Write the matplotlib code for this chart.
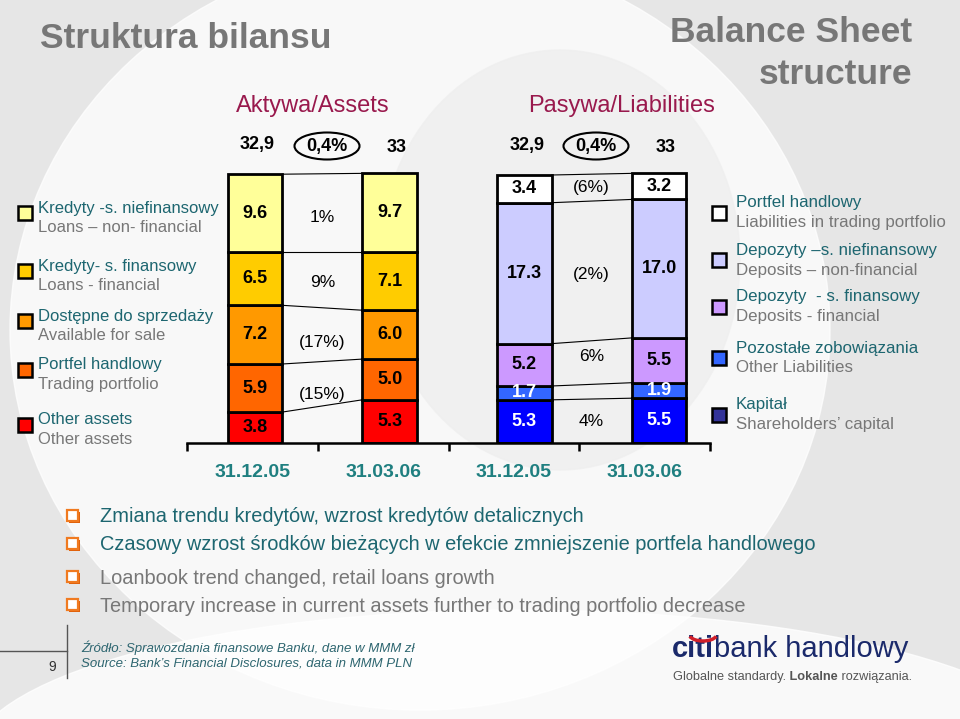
import matplotlib
matplotlib.use('Agg')
import matplotlib.pyplot as plt
from matplotlib.patches import Rectangle, Ellipse, Arc

# --- data ---
dates = ['31.12.05', '31.03.06', '31.12.05', '31.03.06']

# assets, bottom -> top: other, trading, AFS, loans fin, loans non-fin
assets_dec = [3.8, 5.9, 7.2, 6.5, 9.6]
assets_mar = [5.3, 5.0, 6.0, 7.1, 9.7]
asset_changes = [None, '(15%)', '(17%)', '9%', '1%']
asset_totals = ['32,9', '33']

# liabilities, bottom -> top: capital, other, deposits fin, deposits non-fin, trading
liab_dec = [5.3, 1.7, 5.2, 17.3, 3.4]
liab_mar = [5.5, 1.9, 5.5, 17.0, 3.2]
liab_changes = ['4%', None, '6%', '(2%)', '(6%)']
liab_totals = ['32,9', '33']
total_change = '0,4%'

asset_legend = [('Kredyty -s. niefinansowy', 'Loans \u2013 non- financial'),
                ('Kredyty- s. finansowy', 'Loans - financial'),
                ('Dost\u0119pne do sprzeda\u017cy', 'Available for sale'),
                ('Portfel handlowy', 'Trading portfolio'),
                ('Other assets', 'Other assets')]
liab_legend = [('Portfel handlowy', 'Liabilities in trading portfolio'),
               ('Depozyty \u2013s. niefinansowy', 'Deposits \u2013 non-financial'),
               ('Depozyty  - s. finansowy', 'Deposits - financial'),
               ('Pozosta\u0142e zobowi\u0105zania', 'Other Liabilities'),
               ('Kapita\u0142', 'Shareholders\u2019 capital')]

bullets = ['Zmiana trendu kredyt\u00f3w, wzrost kredyt\u00f3w detalicznych',
           'Czasowy wzrost \u015brodk\u00f3w bie\u017c\u0105cych w efekcie zmniejszenie portfela handlowego',
           'Loanbook trend changed, retail loans growth',
           'Temporary increase in current assets further to trading portfolio decrease']

asset_colors = ['#FF0000', '#FF6600', '#FF9900', '#FFCC00', '#FFFF99']
liab_colors = ['#0000FF', '#3366FF', '#CC99FF', '#CCCCFF', '#FFFFFF']
liab_legend_colors = ['#FFFFFF', '#CCCCFF', '#CC99FF', '#3366FF', '#333399']
liab_text_colors = ['white', 'white', 'black', 'black', 'black']

# small vertical nudges (data units) for the % change labels
asset_nudge = [0, -1.3, -1.0, -0.3, -0.5]
liab_nudge = [0, 0, 0.7, -0.5, 0]

FONT = ['Liberation Sans', 'DejaVu Sans']
TEAL = '#1D6670'
GRAY = '#777777'
W, H = 960, 719

fig = plt.figure(figsize=(9.6, 7.19), dpi=100)

# page axes in pixel coordinates (y down)
page = fig.add_axes([0, 0, 1, 1], zorder=0)
page.set_xlim(0, W)
page.set_ylim(H, 0)
page.axis('off')
page.add_patch(Rectangle((0, 0), W, H, color='#E6E6E6', zorder=0))
page.add_patch(Ellipse((420, 330), 820, 760, color='white', alpha=0.75, zorder=0))
page.add_patch(Ellipse((520, 760), 1100, 300, color='white', alpha=0.8, zorder=0))
page.add_patch(Ellipse((560, 260), 360, 420, color='#EFEFEF', alpha=0.8, zorder=0))

# titles
page.text(40, 39, 'Struktura bilansu', fontsize=25.5, fontweight='bold', color=GRAY,
          family=FONT, va='center', ha='left')
page.text(912, 33, 'Balance Sheet', fontsize=25.5, fontweight='bold', color=GRAY,
          family=FONT, va='center', ha='right')
page.text(912, 74, 'structure', fontsize=25.5, fontweight='bold', color=GRAY,
          family=FONT, va='center', ha='right')
page.text(313, 106, 'Aktywa/Assets', fontsize=17, color='#99194D', family=FONT,
          va='center', ha='center')
page.text(622, 106, 'Pasywa/Liabilities', fontsize=17, color='#99194D', family=FONT,
          va='center', ha='center')

# left legend
for (pl, en), c, y in zip(asset_legend, asset_colors[::-1], [213, 271, 321, 370, 425]):
    page.add_patch(Rectangle((18, y - 7), 14, 14, facecolor=c, edgecolor='black', lw=1.8, zorder=3))
    page.text(38, y - 5, pl, fontsize=12, color=TEAL, family=FONT, va='center')
    page.text(38, y + 14, en, fontsize=12, color=GRAY, family=FONT, va='center')

# right legend
for (pl, en), c, y in zip(liab_legend, liab_legend_colors, [213, 260, 307, 358, 415]):
    page.add_patch(Rectangle((712, y - 7), 14, 14, facecolor=c, edgecolor='black', lw=1.8, zorder=3))
    page.text(736, y - 10, pl, fontsize=12.2, color=TEAL, family=FONT, va='center')
    page.text(736, y + 10, en, fontsize=12.2, color=GRAY, family=FONT, va='center')

# bullets
for i, (txt, y) in enumerate(zip(bullets, [517, 545, 578, 606])):
    page.add_patch(Rectangle((69, y - 5), 11, 11, facecolor='#E0600A', lw=0, zorder=2))
    page.add_patch(Rectangle((67, y - 7), 11, 11, facecolor='white', edgecolor='#F07A20', lw=1.6, zorder=3))
    page.text(100, y, txt, fontsize=14.4, color=TEAL if i < 2 else GRAY, family=FONT, va='center')

# footer
page.plot([67, 67], [625, 678], color='#555555', lw=1)
page.plot([0, 67], [651, 651], color='#555555', lw=1)
page.text(52, 667, '9', fontsize=10, color='#333333', family=FONT, va='center', ha='center')
page.text(81, 648, '\u0179r\u00f3d\u0142o: Sprawozdania finansowe Banku, dane w MMM z\u0142', fontsize=9.5,
          style='italic', color='#2E6670', family=FONT, va='center')
page.text(81, 663, 'Source: Bank\u2019s Financial Disclosures, data in MMM PLN', fontsize=9.5,
          style='italic', color='#2E6670', family=FONT, va='center')

# logo
t1 = page.text(672, 657, 'citi', fontsize=21, fontweight='bold', color='#1B2A6B', family=FONT,
               va='baseline')
page.annotate('bank handlowy', xy=(1, 0), xycoords=t1, fontsize=21, color='#1B2A6B',
              family=FONT, va='bottom', ha='left')
page.add_patch(Arc((703, 634), 28, 14, theta1=10, theta2=170, color='#D0202A', lw=2.5, zorder=5))
t2 = page.text(673, 677, 'Globalne standardy.', fontsize=9.2, color='#555555', family=FONT,
               va='center')
t3 = page.annotate(' Lokalne', xy=(1, 0), xycoords=t2, fontsize=9.2, fontweight='bold',
                   color='#555555', family=FONT, va='bottom', ha='left')
page.annotate(' rozwi\u0105zania.', xy=(1, 0), xycoords=t3, fontsize=9.2, color='#555555',
              family=FONT, va='bottom', ha='left')

# change ellipses
for cx, cy in [(327, 146), (596, 146)]:
    page.add_patch(Ellipse((cx, cy), 65, 27, facecolor='none', edgecolor='black', lw=1.5, zorder=3))
    page.text(cx, cy + 1, total_change, fontsize=13, fontweight='bold', family=FONT,
              va='center', ha='center', zorder=4)

# --- bar chart ---
px_per_unit = 8.146
ymax = 34
ax = fig.add_axes([187 / W, (H - 443) / H, (710 - 187) / W, ymax * px_per_unit / H], zorder=1)
ax.set_facecolor('none')
ax.set_xlim(-0.5, 3.5)
ax.set_ylim(0, ymax)
for s in ['top', 'right', 'left']:
    ax.spines[s].set_visible(False)
ax.spines['bottom'].set_linewidth(1.8)
ax.set_yticks([])
ax.set_xticks([-0.5, 0.5, 1.5, 2.5, 3.5])
ax.set_xticklabels([])
ax.tick_params(axis='x', which='major', length=6, width=1.8)
ax.set_xticks([0, 1, 2, 3], minor=True)
ax.set_xticklabels(dates, minor=True, fontsize=14, fontweight='bold', color='#1F7F80', family=FONT)
ax.tick_params(axis='x', which='minor', length=0, pad=15)

xpos = [0.02, 1.05, 2.08, 3.11]
bw = 0.42

groups = [(assets_dec, assets_mar, asset_colors, ['black'] * 5, asset_changes, asset_nudge, 0, asset_totals),
          (liab_dec, liab_mar, liab_colors, liab_text_colors, liab_changes, liab_nudge, 2, liab_totals)]
for a, b, cols, tcols, changes, nudge, k, totals in groups:
    xa, xb = xpos[k], xpos[k + 1]
    ba, bb = 0.0, 0.0
    for va_, vb_, c, tc, ch, nd in zip(a, b, cols, tcols, changes, nudge):
        ax.bar(xa, va_, bw, bottom=ba, color=c, edgecolor='black', lw=2)
        ax.bar(xb, vb_, bw, bottom=bb, color=c, edgecolor='black', lw=2)
        ax.text(xa, ba + va_ / 2, f'{va_:.1f}', ha='center', va='center', fontsize=13,
                fontweight='bold', color=tc, family=FONT)
        ax.text(xb, bb + vb_ / 2, f'{vb_:.1f}', ha='center', va='center', fontsize=13,
                fontweight='bold', color=tc, family=FONT)
        if ch:
            ax.text((xa + xb) / 2, (ba + va_ / 2 + bb + vb_ / 2) / 2 + nd, ch, ha='center',
                    va='center', fontsize=12.5, family=FONT)
        ba += va_
        bb += vb_
        ax.plot([xa + bw / 2, xb - bw / 2], [ba, bb], color='black', lw=0.8, zorder=0.5)
    ax.text(xa + 0.02, ba + 3.6, totals[0], ha='center', va='center', fontsize=13,
            fontweight='bold', family=FONT, clip_on=False)
    ax.text(xb + 0.05, bb + 3.2, totals[1], ha='center', va='center', fontsize=13,
            fontweight='bold', family=FONT, clip_on=False)

fig.savefig('out.png', dpi=100)
